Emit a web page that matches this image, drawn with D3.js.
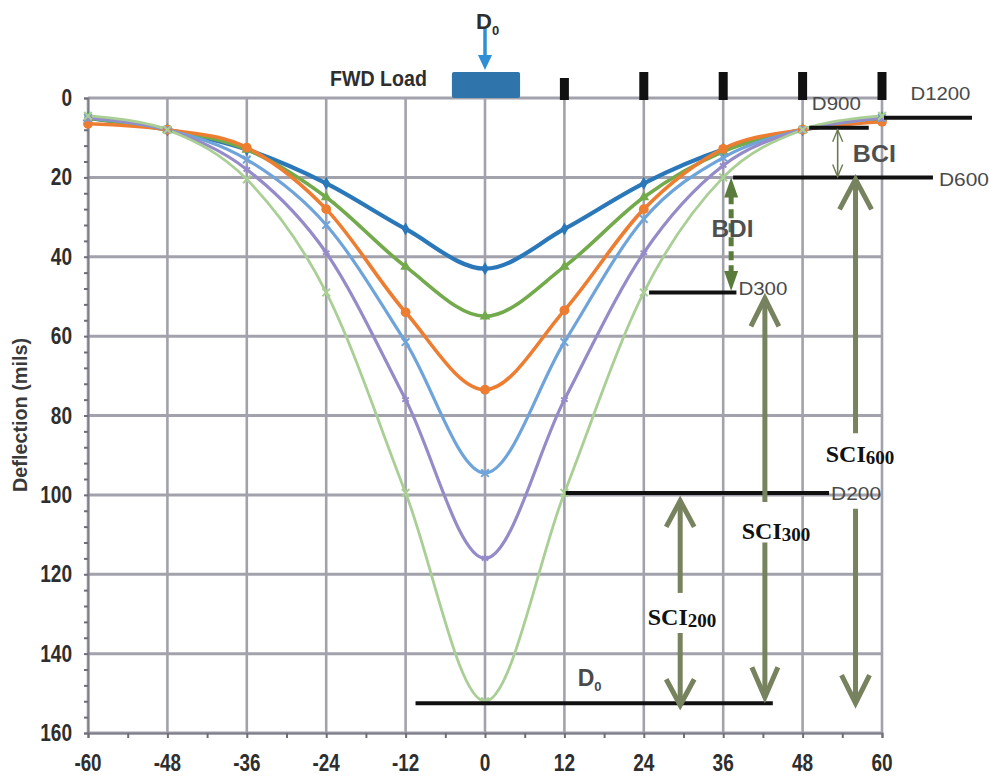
<!DOCTYPE html>
<html>
<head>
<meta charset="utf-8">
<script src="https://cdn.jsdelivr.net/npm/d3@7"></script>
<style>
  html, body { margin: 0; padding: 0; background: #fff; }
  svg { display: block; }
</style>
</head>
<body>
<svg id="chart" width="989" height="776"></svg>
<script>
// Sensor offsets from the load centre (inches)
const offsets = [-60, -48, -36, -24, -12, 0, 12, 24, 36, 48, 60];

// Deflection basins (mils) for six load / pavement cases
const basinA = [5, 8, 13, 21.5, 33, 43, 33, 21.5, 13, 8, 5];
const basinB = [5, 8, 13, 25, 42.5, 55, 42.5, 25, 13.5, 8, 5];
const basinC = [6.5, 8, 12.5, 28, 54, 73.5, 53.5, 28, 12.8, 8, 6];
const basinD = [5, 8, 15.5, 32, 61.5, 94.5, 61.5, 30.5, 15, 8, 5];
const basinE = [5, 8, 18, 39, 76, 116, 76, 39, 17, 8, 5];
const basinF = [4.5, 8, 20.5, 49, 99.5, 152, 99.5, 49, 20, 8, 4.5];

const basinColors = ["#2a78b9", "#72aa4c", "#ed7d31", "#6fa4db", "#958bc8", "#aacf95"];
const basinWidths = [4.2, 3.6, 3.6, 3.2, 3.2, 2.8];

// Axis ticks
const xTicks = [-60, -48, -36, -24, -12, 0, 12, 24, 36, 48, 60];
const yTicks = [0, 20, 40, 60, 80, 100, 120, 140, 160];

// Sensor positions shown above the plot
const sensorOffsets = [12, 24, 36, 48, 60];

// Reference deflection levels: [label, offset start, offset end, deflection]
const levelNames = ["D0", "D200", "D300", "D600", "D900", "D1200"];
const levelStart = [-10.5, 12.2, 24.8, 37.5, 49, 60.3];
const levelEnd = [43.5, 52, 38, 67.7, 58, 73.6];
const levelValue = [152.5, 99.5, 49, 20, 7.5, 5];

const svg = d3.select("#chart");

const x = d3.scaleLinear().domain([-60, 60]).range([88, 882]);
const y = d3.scaleLinear().domain([0, 160]).range([98, 733]);

const gridColor = "#a2a2ac";

// Grid
const grid = svg.append("g");
grid.selectAll("line.v").data(xTicks).join("line")
  .attr("x1", d => x(d)).attr("x2", d => x(d))
  .attr("y1", y(0)).attr("y2", y(160))
  .attr("stroke", gridColor).attr("stroke-width", 2.6);
grid.selectAll("line.h").data(yTicks).join("line")
  .attr("x1", x(-60)).attr("x2", x(60))
  .attr("y1", d => y(d)).attr("y2", d => y(d))
  .attr("stroke", gridColor).attr("stroke-width", 3);

// Left axis with minor ticks
const yAxis = d3.axisLeft(y).tickValues(d3.range(0, 161, 4)).tickSize(4).tickFormat("");
const gy = svg.append("g").attr("transform", `translate(${x(-60)},0)`).call(yAxis);
gy.select(".domain").attr("stroke", "#80808c").attr("stroke-width", 2);
gy.selectAll(".tick line").attr("stroke", "#6e6e78").attr("stroke-width", 2);

// Bottom axis with minor ticks
const xAxis = d3.axisBottom(x).tickValues(d3.range(-60, 61, 6)).tickSize(5).tickFormat("");
const gx = svg.append("g").attr("transform", `translate(0,${y(160)})`).call(xAxis);
gx.select(".domain").attr("stroke", "#80808c").attr("stroke-width", 2);
gx.selectAll(".tick line").attr("stroke", "#6e6e78").attr("stroke-width", 2);

// Tick labels: narrow bold numerals
const tickFont = "'Liberation Sans', Arial, sans-serif";
const tickLen = d => String(Math.abs(d)).length * 10.6 + (d < 0 ? 6 : 0);
svg.append("g").selectAll("text").data(yTicks).join("text")
  .attr("x", 72).attr("y", d => y(d) + 8)
  .attr("text-anchor", "end")
  .attr("font-family", tickFont).attr("font-weight", "bold").attr("font-size", 23)
  .attr("textLength", tickLen).attr("lengthAdjust", "spacingAndGlyphs")
  .attr("fill", "#2e2e2e")
  .text(d => d);
svg.append("g").selectAll("text").data(xTicks).join("text")
  .attr("x", d => x(d)).attr("y", 771)
  .attr("text-anchor", "middle")
  .attr("font-family", tickFont).attr("font-weight", "bold").attr("font-size", 23)
  .attr("textLength", tickLen).attr("lengthAdjust", "spacingAndGlyphs")
  .attr("fill", "#2e2e2e")
  .text(d => d);

// Axis title
svg.append("text")
  .attr("transform", "translate(27,415) rotate(-90)")
  .attr("text-anchor", "middle")
  .attr("font-family", tickFont).attr("font-weight", "bold").attr("font-size", 20)
  .attr("textLength", 154).attr("lengthAdjust", "spacingAndGlyphs")
  .attr("fill", "#3a3a3a")
  .text("Deflection (mils)");

// Deflection basins
const basins = [basinA, basinB, basinC, basinD, basinE, basinF];
const line = d3.line()
  .x((d, i) => x(offsets[i]))
  .y(d => y(d))
  .curve(d3.curveCardinal.tension(0));

const symbolTypes = [d3.symbolDiamond, d3.symbolTriangle, d3.symbolCircle, d3.symbolTimes, d3.symbolAsterisk, d3.symbolTimes];
const filledSymbol = [true, true, true, false, false, false];

const gBasins = svg.append("g");
basins.forEach((vals, k) => {
  gBasins.append("path")
    .attr("d", line(vals))
    .attr("fill", "none")
    .attr("stroke", basinColors[k])
    .attr("stroke-width", basinWidths[k])
    .attr("stroke-linejoin", "round");
});
basins.forEach((vals, k) => {
  gBasins.append("g").selectAll("path").data(vals).join("path")
    .attr("transform", (d, i) => `translate(${x(offsets[i])},${y(d)})`)
    .attr("d", d3.symbol().type(symbolTypes[k]).size(filledSymbol[k] ? (k === 2 ? 75 : 50) : 40))
    .attr("fill", filledSymbol[k] ? basinColors[k] : "none")
    .attr("stroke", basinColors[k])
    .attr("stroke-width", filledSymbol[k] ? 0 : 2);
});

// Load plate and sensors
svg.append("rect")
  .attr("x", x(-5)).attr("y", 72)
  .attr("width", x(5.3) - x(-5)).attr("height", y(0) - 72)
  .attr("rx", 2)
  .attr("fill", "#2f74aa");
svg.selectAll("rect.sensor").data(sensorOffsets).join("rect")
  .attr("class", "sensor")
  .attr("x", d => x(d) - 4.5)
  .attr("y", d => d === 12 ? 78 : 72)
  .attr("width", 9)
  .attr("height", d => y(0) + 2 - (d === 12 ? 78 : 72))
  .attr("fill", "#111");

// Load arrow and labels
svg.append("line")
  .attr("x1", x(0)).attr("x2", x(0)).attr("y1", 28).attr("y2", 58)
  .attr("stroke", "#2f8fd6").attr("stroke-width", 3.5);
svg.append("path")
  .attr("d", `M${x(0) - 7},55 L${x(0) + 7},55 L${x(0)},70 Z`)
  .attr("fill", "#2f8fd6");
const d0Top = svg.append("text")
  .attr("x", x(0) - 9).attr("y", 29)
  .attr("font-family", tickFont).attr("font-weight", "bold").attr("font-size", 22)
  .attr("fill", "#2e2e2e");
d0Top.append("tspan").text("D");
d0Top.append("tspan").attr("font-size", 13).attr("dy", 6).text("0");

svg.append("text")
  .attr("x", 330).attr("y", 86)
  .attr("font-family", tickFont).attr("font-weight", "bold").attr("font-size", 22)
  .attr("textLength", 97).attr("lengthAdjust", "spacingAndGlyphs")
  .attr("fill", "#2e2e2e")
  .text("FWD Load");

// Reference deflection levels
svg.append("g").selectAll("line").data(levelNames).join("line")
  .attr("x1", (d, i) => x(levelStart[i]))
  .attr("x2", (d, i) => x(levelEnd[i]))
  .attr("y1", (d, i) => y(levelValue[i]))
  .attr("y2", (d, i) => y(levelValue[i]))
  .attr("stroke", "#111").attr("stroke-width", 4);

function levelLabel(txt, px, py, len) {
  svg.append("text")
    .attr("x", px).attr("y", py)
    .attr("font-family", tickFont).attr("font-size", 18)
    .attr("textLength", len).attr("lengthAdjust", "spacingAndGlyphs")
    .attr("fill", "#4a4a4a")
    .text(txt);
}
levelLabel("D200", x(levelEnd[1]) + 2, y(levelValue[1]) + 7, 50);
levelLabel("D300", x(levelEnd[2]) + 2, y(levelValue[2]) + 3, 49);
levelLabel("D600", x(levelEnd[3]) + 6, y(levelValue[3]) + 9, 50);
levelLabel("D900", x(49.4), 110, 49);
levelLabel("D1200", x(64.3), 100, 60);

// D0 label near the peak deflection
const d0Low = svg.append("text")
  .attr("x", x(14)).attr("y", 686)
  .attr("font-family", tickFont).attr("font-weight", "bold").attr("font-size", 23)
  .attr("fill", "#4a4a4a");
d0Low.append("tspan").text("D");
d0Low.append("tspan").attr("font-size", 13).attr("dy", 5).text("0");

// Index arrows
const arrowColor = "#77825e";
function shaft(xv, v1, v2, w, color) {
  svg.append("line")
    .attr("x1", x(xv)).attr("x2", x(xv))
    .attr("y1", y(v1)).attr("y2", y(v2))
    .attr("stroke", color).attr("stroke-width", w);
}
function chevron(xv, v, dir, dx, dy, w, color) {
  const px = x(xv), py = y(v);
  svg.append("path")
    .attr("d", `M${px - dx},${py + dir * dy} L${px},${py} L${px + dx},${py + dir * dy}`)
    .attr("fill", "none")
    .attr("stroke", color).attr("stroke-width", w)
    .attr("stroke-linejoin", "miter").attr("stroke-linecap", "butt");
}
function sciLabel(main, sub, xv, v) {
  const t = svg.append("text")
    .attr("x", x(xv)).attr("y", y(v))
    .attr("font-family", "'Liberation Serif', 'Times New Roman', serif")
    .attr("font-weight", "bold").attr("font-size", 24)
    .attr("fill", "#111");
  t.append("tspan").text(main);
  t.append("tspan").attr("font-size", 19).attr("dy", 2).text(sub);
}

// SCI600
shaft(56, 20.5, 84.5, 5, arrowColor);
chevron(56, 20.5, 1, 16, 30, 5, arrowColor);
shaft(56, 103.5, 152.5, 5, arrowColor);
chevron(56, 152.5, -1, 14, 28, 5, arrowColor);
sciLabel("SCI", "600", 51.5, 91.8);

// SCI300
shaft(42.3, 50.5, 101.8, 5, arrowColor);
chevron(42.3, 50.5, 1, 14, 28, 5, arrowColor);
shaft(42.3, 112, 151, 5, arrowColor);
chevron(42.3, 151, -1, 13, 30, 5, arrowColor);
sciLabel("SCI", "300", 38.8, 111.2);

// SCI200
shaft(29.5, 101.5, 124.7, 5, arrowColor);
chevron(29.5, 101.5, 1, 14, 26, 5, arrowColor);
shaft(29.5, 134.8, 153, 5, arrowColor);
chevron(29.5, 153, -1, 14, 26, 5, arrowColor);
sciLabel("SCI", "200", 24.6, 132.8);

// BDI: dashed double arrow between D600 and D300
const bdiColor = "#5a7b3c";
svg.append("line")
  .attr("x1", x(37.2)).attr("x2", x(37.2))
  .attr("y1", y(24.5)).attr("y2", y(44))
  .attr("stroke", bdiColor).attr("stroke-width", 5)
  .attr("stroke-dasharray", "9,5");
svg.append("path")
  .attr("d", `M${x(37.2)},${y(20)} L${x(37.2) - 7},${y(20) + 20} L${x(37.2) + 7},${y(20) + 20} Z`)
  .attr("fill", bdiColor);
svg.append("path")
  .attr("d", `M${x(37.2)},${y(48.6)} L${x(37.2) - 7},${y(48.6) - 20} L${x(37.2) + 7},${y(48.6) - 20} Z`)
  .attr("fill", bdiColor);
svg.append("text")
  .attr("x", x(37.4)).attr("y", 237)
  .attr("text-anchor", "middle")
  .attr("font-family", tickFont).attr("font-weight", "bold").attr("font-size", 24)
  .attr("textLength", 42).attr("lengthAdjust", "spacingAndGlyphs")
  .attr("fill", "#4f4f4f")
  .text("BDI");

// BCI: thin double arrow between D900 and D600
const bciColor = "#6c7a52";
shaft(53.3, 8, 19.8, 1.6, bciColor);
chevron(53.3, 8, 1, 5, 12, 1.4, bciColor);
chevron(53.3, 19.8, -1, 5, 12, 1.4, bciColor);
svg.append("text")
  .attr("x", x(55.6)).attr("y", 162)
  .attr("font-family", tickFont).attr("font-weight", "bold").attr("font-size", 24)
  .attr("textLength", 43).attr("lengthAdjust", "spacingAndGlyphs")
  .attr("fill", "#4f4f4f")
  .text("BCI");
</script>
</body>
</html>
